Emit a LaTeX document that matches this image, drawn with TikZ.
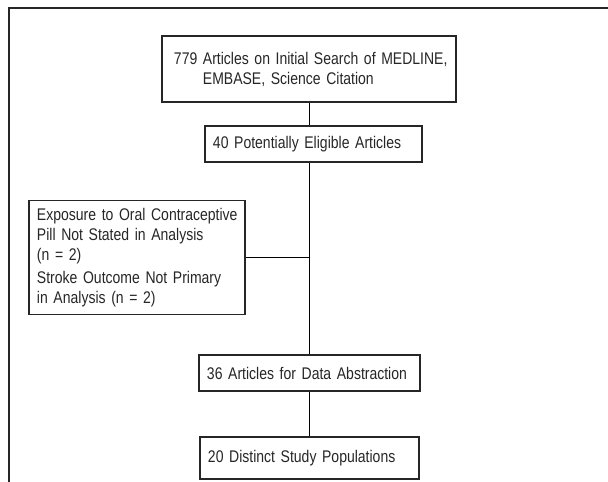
\documentclass[tikz,border=0pt]{standalone}
\usepackage{fontspec}
\setmainfont{Liberation Sans}[FakeStretch=0.83]
\usepackage{xcolor}
\usetikzlibrary{calc}

\begin{document}
\begin{tikzpicture}[x=0.025cm, y=-0.025cm,
    box/.style={draw=black!85, line width=0.8pt, align=left, text=black!85,
      inner xsep=0.2cm, font=\fontsize{12}{14.2}\selectfont},
    link/.style={draw=black, line width=0.6pt}]
  \useasboundingbox (0,0) rectangle (608,482);
  \draw[black!85, line width=1.2pt] (608,8) -- (9,8) -- (9,482);

  \node[box, inner xsep=0.3cm, text width=6.75cm, minimum height=1.65cm] (search) at (309,69)
    {\mbox{779 Articles on Initial Search of MEDLINE,}\\\hphantom{779 }EMBASE, Science Citation};
  \node[box, text width=5.025cm, minimum height=0.9cm] (eligible) at (313.5,144)
    {40 Potentially Eligible Articles};
  \node[box, text width=5.0cm, minimum height=2.85cm] (excluded) at (137,257.7)
    {\mbox{Exposure to Oral Contraceptive}\\Pill Not Stated in Analysis\\(n = 2)\\[2.5pt]Stroke Outcome Not Primary\\in Analysis (n = 2)};
  \node[box, text width=5.125cm, minimum height=0.9cm] (abstraction) at (309.5,373)
    {36 Articles for Data Abstraction};
  \node[box, text width=5.075cm, minimum height=1.05cm] (populations) at (309.5,458)
    {20 Distinct Study Populations};

  \draw[link] (search.south) -- (search.south |- eligible.north);
  \draw[link] (abstraction.north) -- (abstraction.north |- eligible.south);
  \draw[link] (excluded.east) -- (excluded.east -| abstraction.north);
  \draw[link] (abstraction.south) -- (populations.north);
\end{tikzpicture}
\end{document}
